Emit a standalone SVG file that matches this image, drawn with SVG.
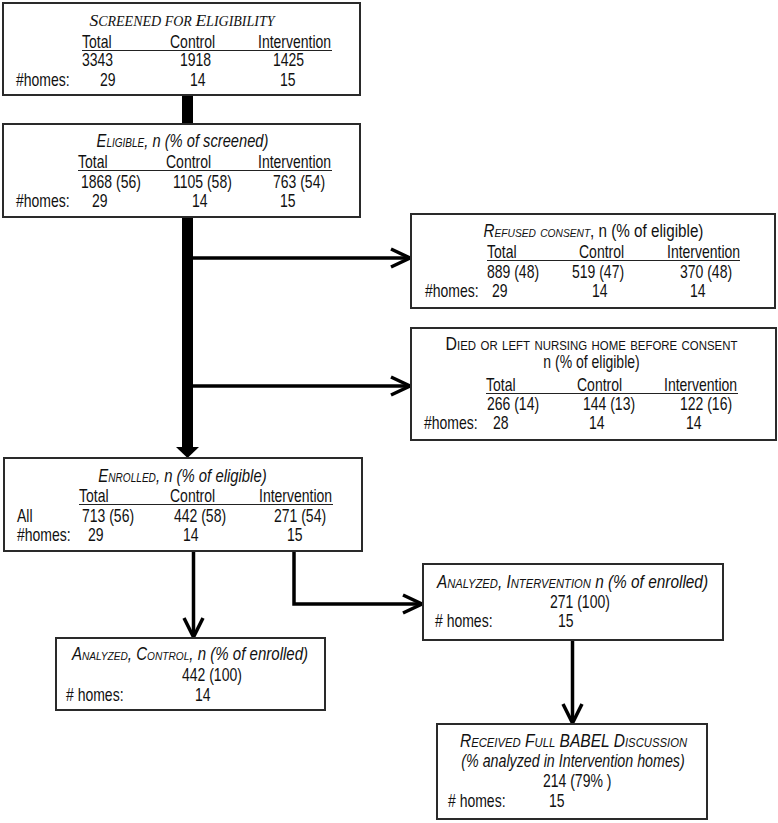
<svg xmlns="http://www.w3.org/2000/svg" width="778" height="823" viewBox="0 0 778 823">
<style>
.box{fill:#fff;stroke:#2a2a2a;stroke-width:2}
text{font-family:"Liberation Sans",Arial,sans-serif;font-size:17.5px;fill:#111}
.ttl{font-style:italic}
.sc{font-variant:small-caps}
.serif{font-family:"Liberation Serif","Times New Roman",serif;font-size:17.5px;font-style:italic}
.sm{font-size:14px}
.mid{text-anchor:middle}
.ul{stroke:#222;stroke-width:1.2}
.con{fill:none;stroke:#000;stroke-width:3.5}
.head{fill:none;stroke:#000;stroke-width:3.5;stroke-linejoin:miter}
</style>
<g id="connectors">
<rect x="182" y="94" width="11" height="31" fill="#000"/>
<rect x="182" y="216" width="11" height="232" fill="#000"/>
<polygon points="176,447 199,447 187.5,458" fill="#000"/>
<line class="con" x1="193" y1="258" x2="409" y2="258"/>
<polyline class="head" points="391,249 410,258 391,267"/>
<line class="con" x1="193" y1="386" x2="409" y2="386"/>
<polyline class="head" points="391,377 410,386 391,395"/>
<line class="con" x1="193.5" y1="551" x2="193.5" y2="636"/>
<polyline class="head" points="184,618 193.5,637 203,618"/>
<polyline class="con" points="294,551 294,604 421,604"/>
<polyline class="head" points="403,595 422,604 403,613"/>
<line class="con" x1="572.5" y1="640" x2="572.5" y2="722"/>
<polyline class="head" points="563,704 572.5,723 582,704"/>
</g>
<g id="screened">
<rect class="box" x="3" y="3" width="357" height="92"/>
<text class="serif mid" x="182" y="26">S<tspan class="sm">CREENED FOR </tspan>E<tspan class="sm">LIGIBILITY</tspan></text>
<text transform="translate(82 48) scale(.8 1)">Total</text><text transform="translate(170 48) scale(.8 1)">Control</text><text transform="translate(258 48) scale(.8 1)">Intervention</text>
<line class="ul" x1="82" y1="50.5" x2="332" y2="50.5"/>
<text transform="translate(82 66) scale(.8 1)">3343</text><text transform="translate(180 66) scale(.8 1)">1918</text><text transform="translate(273 66) scale(.8 1)">1425</text>
<text transform="translate(16 86) scale(.8 1)">#homes:</text><text transform="translate(100 86) scale(.8 1)">29</text><text transform="translate(190 86) scale(.8 1)">14</text><text transform="translate(280 86) scale(.8 1)">15</text>
</g>
<g id="eligible">
<rect class="box" x="3" y="124" width="357" height="93"/>
<text class="ttl mid" transform="translate(182.5 147) scale(.84 1)"><tspan class="sc">Eligible</tspan>, n (% of screened)</text>
<text transform="translate(78 168) scale(.8 1)">Total</text><text transform="translate(166 168) scale(.8 1)">Control</text><text transform="translate(258 168) scale(.8 1)">Intervention</text>
<line class="ul" x1="78" y1="170.5" x2="332" y2="170.5"/>
<text transform="translate(81 188) scale(.8 1)">1868 (56)</text><text transform="translate(173 188) scale(.8 1)">1105 (58)</text><text transform="translate(273 188) scale(.8 1)">763 (54)</text>
<text transform="translate(16 207) scale(.8 1)">#homes:</text><text transform="translate(92 207) scale(.8 1)">29</text><text transform="translate(192 207) scale(.8 1)">14</text><text transform="translate(280 207) scale(.8 1)">15</text>
</g>
<g id="refused">
<rect class="box" x="411" y="214" width="364" height="94"/>
<text class="mid" transform="translate(593.5 237) scale(.87 1)"><tspan class="ttl sc">Refused consent</tspan>, n (% of eligible)</text>
<text transform="translate(487 258) scale(.8 1)">Total</text><text transform="translate(579 258) scale(.8 1)">Control</text><text transform="translate(667 258) scale(.8 1)">Intervention</text>
<line class="ul" x1="487" y1="260.5" x2="740" y2="260.5"/>
<text transform="translate(487 278) scale(.8 1)">889 (48)</text><text transform="translate(572 278) scale(.8 1)">519 (47)</text><text transform="translate(680 278) scale(.8 1)">370 (48)</text>
<text transform="translate(425 297) scale(.8 1)">#homes:</text><text transform="translate(492 297) scale(.8 1)">29</text><text transform="translate(592 297) scale(.8 1)">14</text><text transform="translate(690 297) scale(.8 1)">14</text>
</g>
<g id="died">
<rect class="box" x="411" y="328" width="365" height="112"/>
<text class="sc mid" transform="translate(591.5 350) scale(.91 1)">Died or left nursing home before consent</text>
<text class="mid" transform="translate(591.5 368) scale(.8 1)">n (% of eligible)</text>
<text transform="translate(486 391) scale(.8 1)">Total</text><text transform="translate(577 391) scale(.8 1)">Control</text><text transform="translate(664 391) scale(.8 1)">Intervention</text>
<line class="ul" x1="486" y1="393.5" x2="738" y2="393.5"/>
<text transform="translate(487 410) scale(.8 1)">266 (14)</text><text transform="translate(583 410) scale(.8 1)">144 (13)</text><text transform="translate(680 410) scale(.8 1)">122 (16)</text>
<text transform="translate(424 429) scale(.8 1)">#homes:</text><text transform="translate(493 429) scale(.8 1)">28</text><text transform="translate(589 429) scale(.8 1)">14</text><text transform="translate(686 429) scale(.8 1)">14</text>
</g>
<g id="enrolled">
<rect class="box" x="4" y="458" width="358" height="93"/>
<text class="ttl mid" transform="translate(182.5 482) scale(.85 1)"><tspan class="sc">Enrolled</tspan>, n (% of eligible)</text>
<text transform="translate(79 502) scale(.8 1)">Total</text><text transform="translate(170 502) scale(.8 1)">Control</text><text transform="translate(259 502) scale(.8 1)">Intervention</text>
<line class="ul" x1="79" y1="504.5" x2="333" y2="504.5"/>
<text transform="translate(17 522) scale(.8 1)">All</text><text transform="translate(82 522) scale(.8 1)">713 (56)</text><text transform="translate(174 522) scale(.8 1)">442 (58)</text><text transform="translate(274 522) scale(.8 1)">271 (54)</text>
<text transform="translate(17 541) scale(.8 1)">#homes:</text><text transform="translate(88 541) scale(.8 1)">29</text><text transform="translate(183 541) scale(.8 1)">14</text><text transform="translate(287 541) scale(.8 1)">15</text>
</g>
<g id="analyzed-intervention">
<rect class="box" x="423" y="564" width="300" height="76"/>
<text class="ttl mid" transform="translate(572.5 588) scale(.88 1)"><tspan class="sc">Analyzed, Intervention</tspan> n (% of enrolled)</text>
<text transform="translate(550 608) scale(.8 1)">271 (100)</text>
<text transform="translate(435 627) scale(.8 1)"># homes:</text><text transform="translate(558 627) scale(.8 1)">15</text>
</g>
<g id="analyzed-control">
<rect class="box" x="56" y="638" width="269" height="72"/>
<text class="ttl mid" transform="translate(190 660) scale(.86 1)"><tspan class="sc">Analyzed, Control</tspan>, n (% of enrolled)</text>
<text transform="translate(182 681) scale(.8 1)">442 (100)</text>
<text transform="translate(66 701) scale(.8 1)"># homes:</text><text transform="translate(195 701) scale(.8 1)">14</text>
</g>
<g id="received">
<rect class="box" x="437" y="724" width="270" height="95"/>
<text class="ttl sc mid" transform="translate(573.5 747) scale(.89 1)">Received Full BABEL Discussion</text>
<text class="ttl mid" transform="translate(573 767) scale(.815 1)">(% analyzed in Intervention homes)</text>
<text transform="translate(543 787) scale(.8 1)">214 (79% )</text>
<text transform="translate(448 807) scale(.8 1)"># homes:</text><text transform="translate(549 807) scale(.8 1)">15</text>
</g>
</svg>
